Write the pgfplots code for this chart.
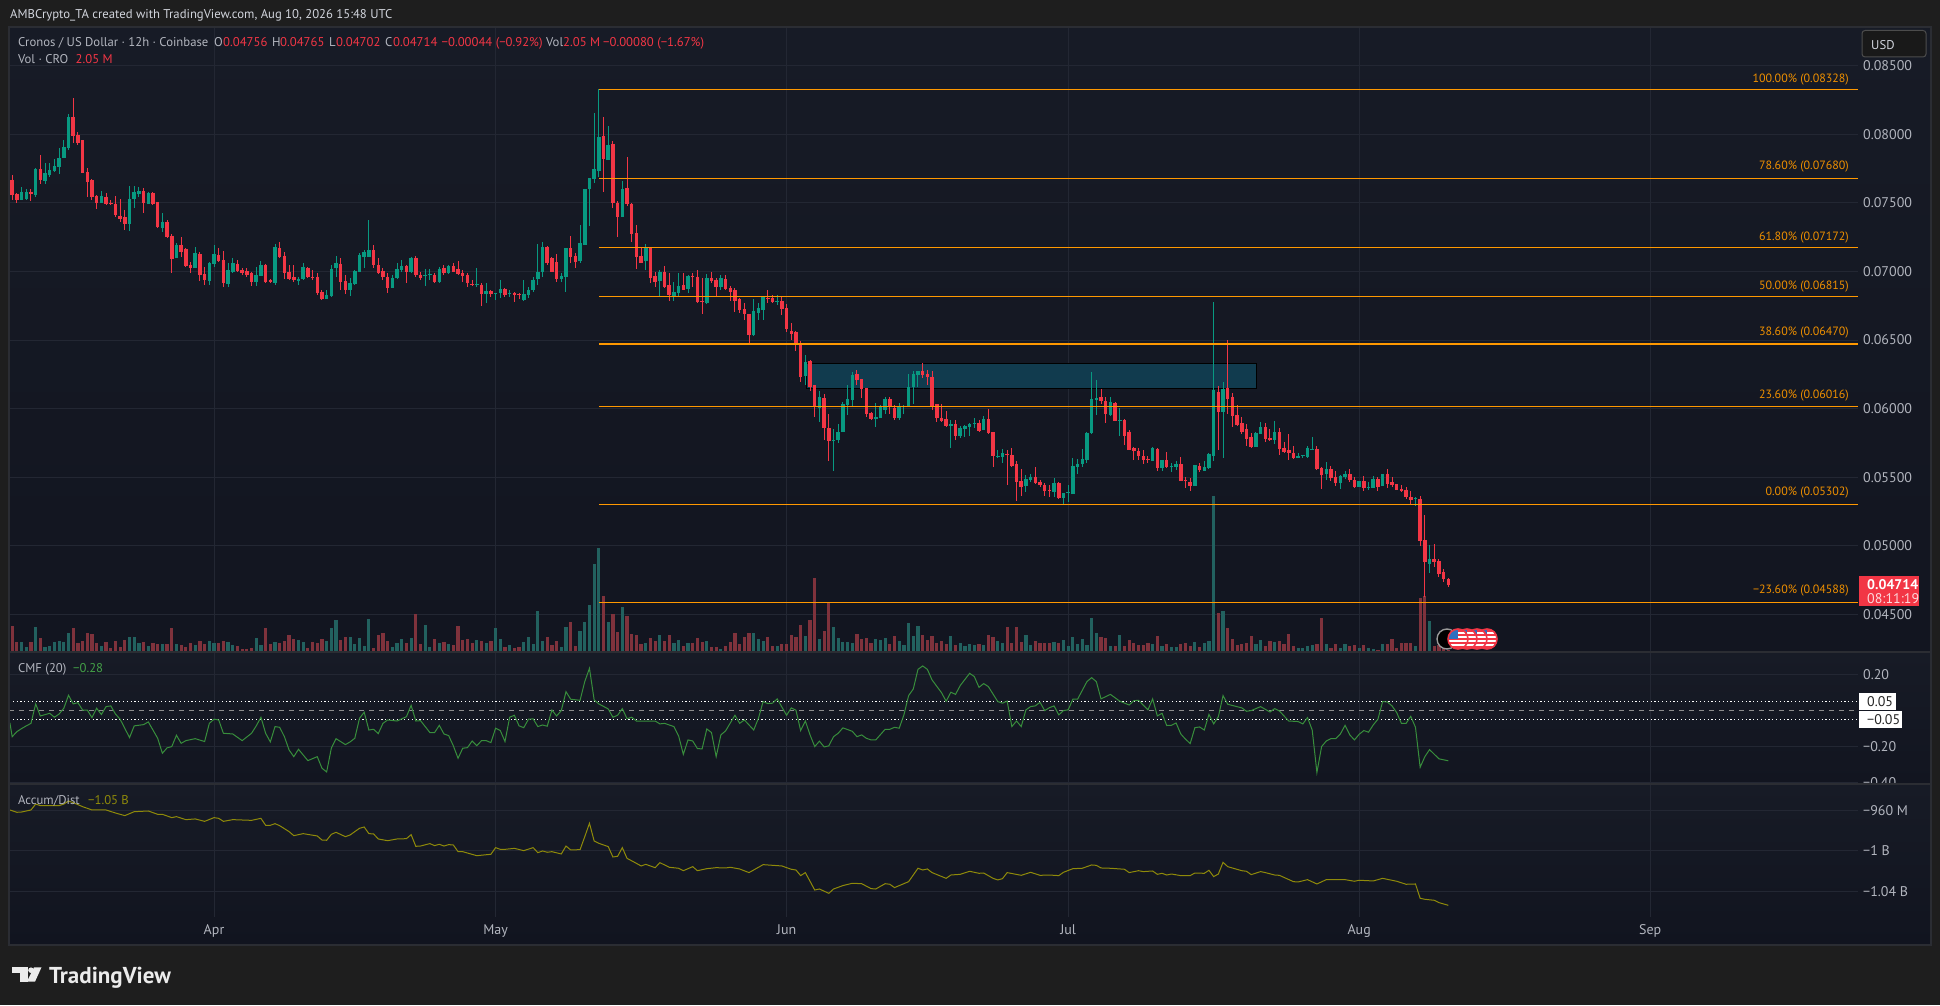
\documentclass[border=0pt]{standalone}
\usepackage{fontspec}
\setmainfont{PT Sans}
\usepackage{pgfplots}
\usepackage{pgfplotstable}
\pgfplotsset{compat=1.18}
\definecolor{pagebg}{HTML}{1E1E1E}
\definecolor{framec}{HTML}{2B2D33}
\definecolor{gridc}{HTML}{232733}
\definecolor{txt}{HTML}{B2B5BE}
\definecolor{txtb}{HTML}{D1D4DC}
\definecolor{cup}{HTML}{089981}
\definecolor{cdn}{HTML}{F23645}
\definecolor{vup}{HTML}{22615F}
\definecolor{vdn}{HTML}{7F323C}
\definecolor{fib}{HTML}{FF9800}
\definecolor{fibt}{HTML}{EE8F00}
\definecolor{boxc}{HTML}{113B4E}
\definecolor{cmfc}{HTML}{388E3C}
\definecolor{cmft}{HTML}{43A047}
\definecolor{adc}{HTML}{8F8A0A}
\definecolor{paneT}{RGB}{23,27,38}
\definecolor{paneB}{RGB}{18,21,32}
\definecolor{paneC}{RGB}{17,20,31}
\definecolor{flagb}{HTML}{2F6FC0}
\pgfplotstableread{
i o h l c v
0 0.07667 0.07703 0.07521 0.07557 25.7
1 0.07567 0.07574 0.07502 0.07521 10.3
2 0.07521 0.07613 0.07521 0.07579 10.3
3 0.07526 0.07599 0.07521 0.07582 5.3
4 0.07582 0.07601 0.07514 0.07567 10.3
5 0.07557 0.07757 0.07545 0.07747 25.3
6 0.07747 0.07849 0.07638 0.07664 14.3
7 0.07660 0.07788 0.07638 0.07718 5.3
8 0.07703 0.07788 0.07691 0.07740 6.3
9 0.07732 0.07822 0.07728 0.07769 10.3
10 0.07764 0.07898 0.07713 0.07827 11.3
11 0.07827 0.07958 0.07825 0.07907 10.3
12 0.07900 0.08146 0.07888 0.08126 19.3
13 0.08126 0.08265 0.07934 0.07988 24.3
14 0.07997 0.08019 0.07922 0.07941 9.3
15 0.07958 0.07958 0.07720 0.07720 11.3
16 0.07723 0.07752 0.07540 0.07652 19.3
17 0.07664 0.07674 0.07521 0.07540 18.3
18 0.07553 0.07557 0.07453 0.07497 9.3
19 0.07497 0.07589 0.07497 0.07550 6.3
20 0.07545 0.07574 0.07485 0.07492 10.3
21 0.07502 0.07521 0.07485 0.07494 4.3
22 0.07492 0.07550 0.07399 0.07409 11.3
23 0.07404 0.07528 0.07363 0.07380 5.3
24 0.07395 0.07448 0.07302 0.07346 12.3
25 0.07346 0.07623 0.07297 0.07528 15.3
26 0.07528 0.07623 0.07460 0.07579 15.3
27 0.07565 0.07618 0.07545 0.07587 9.3
28 0.07587 0.07606 0.07424 0.07502 10.3
29 0.07494 0.07582 0.07492 0.07572 6.3
30 0.07572 0.07577 0.07485 0.07489 9.3
31 0.07506 0.07506 0.07322 0.07327 8.3
32 0.07317 0.07429 0.07290 0.07358 8.3
33 0.07361 0.07375 0.07242 0.07251 8.3
34 0.07261 0.07271 0.06991 0.07093 24.3
35 0.07098 0.07205 0.07096 0.07191 8.3
36 0.07191 0.07254 0.07108 0.07144 7.3
37 0.07164 0.07169 0.07040 0.07042 5.3
38 0.07047 0.07071 0.06991 0.07025 9.3
39 0.07025 0.07176 0.07023 0.07132 7.3
40 0.07127 0.07144 0.06933 0.06974 11.3
41 0.06982 0.07035 0.06901 0.06935 8.3
42 0.06933 0.07071 0.06901 0.07059 11.3
43 0.07054 0.07193 0.07035 0.07125 9.3
44 0.07120 0.07169 0.07071 0.07074 9.3
45 0.07084 0.07152 0.06889 0.06913 11.3
46 0.06909 0.07059 0.06884 0.07011 10.3
47 0.06999 0.07096 0.06986 0.07059 7.3
48 0.07057 0.07084 0.06999 0.07006 6.3
49 0.07008 0.07028 0.06974 0.06986 3.3
50 0.07003 0.07023 0.06962 0.06972 3.3
51 0.06991 0.06999 0.06894 0.06921 4.3
52 0.06926 0.07035 0.06894 0.06972 14.3
53 0.06967 0.07079 0.06967 0.07047 7.3
54 0.07047 0.07052 0.06918 0.06923 24.3
55 0.06935 0.06943 0.06913 0.06921 8.3
56 0.06916 0.07200 0.06901 0.07178 10.3
57 0.07169 0.07212 0.07096 0.07108 9.3
58 0.07115 0.07144 0.06943 0.06986 11.3
59 0.06999 0.07047 0.06938 0.06943 17.3
60 0.06957 0.07047 0.06926 0.06935 13.3
61 0.06931 0.06962 0.06901 0.06945 12.3
62 0.06943 0.07059 0.06938 0.07035 10.3
63 0.07028 0.07035 0.06950 0.06957 4.3
64 0.06960 0.07011 0.06938 0.06952 10.3
65 0.06962 0.06986 0.06828 0.06845 9.3
66 0.06853 0.06865 0.06797 0.06802 13.3
67 0.06802 0.06865 0.06799 0.06828 11.3
68 0.06821 0.07047 0.06816 0.07020 24.3
69 0.07023 0.07113 0.06962 0.07059 32.3
70 0.07054 0.07096 0.06865 0.06926 12.3
71 0.06931 0.06974 0.06836 0.06865 15.3
72 0.06865 0.06950 0.06821 0.06913 15.3
73 0.06911 0.07011 0.06901 0.07003 8.3
74 0.06999 0.07132 0.06999 0.07120 14.3
75 0.07103 0.07157 0.07023 0.07139 6.3
76 0.07103 0.07375 0.07103 0.07157 33.3
77 0.07157 0.07193 0.07023 0.07047 4.3
78 0.07047 0.07096 0.06986 0.06989 17.3
79 0.07006 0.07023 0.06938 0.06962 19.3
80 0.06957 0.06986 0.06841 0.06877 11.3
81 0.06879 0.06974 0.06877 0.06950 5.3
82 0.06952 0.07059 0.06948 0.07016 9.3
83 0.07011 0.07084 0.06999 0.07042 13.3
84 0.07042 0.07047 0.06913 0.06999 9.3
85 0.06994 0.07108 0.06986 0.07101 14.3
86 0.07101 0.07113 0.06962 0.06974 38.3
87 0.06974 0.06999 0.06938 0.06950 8.3
88 0.06969 0.07016 0.06894 0.06977 27.3
89 0.06972 0.07016 0.06938 0.06979 5.3
90 0.06974 0.06986 0.06913 0.06923 13.3
91 0.06923 0.07035 0.06918 0.07016 9.3
92 0.07028 0.07047 0.06974 0.06986 10.3
93 0.06986 0.07047 0.06982 0.07040 8.3
94 0.07040 0.07059 0.06999 0.06999 7.3
95 0.07016 0.07076 0.06974 0.06979 26.3
96 0.06986 0.07011 0.06926 0.06967 12.3
97 0.06974 0.06986 0.06884 0.06913 13.3
98 0.06909 0.06938 0.06894 0.06899 9.3
99 0.06901 0.07023 0.06889 0.06909 12.3
100 0.06901 0.06913 0.06751 0.06836 11.3
101 0.06836 0.06913 0.06773 0.06858 9.3
102 0.06858 0.06865 0.06816 0.06836 11.3
103 0.06833 0.06845 0.06792 0.06841 24.3
104 0.06841 0.06938 0.06804 0.06870 13.3
105 0.06872 0.06877 0.06816 0.06828 5.3
106 0.06836 0.06865 0.06811 0.06845 7.3
107 0.06845 0.06853 0.06780 0.06828 4.3
108 0.06833 0.06841 0.06797 0.06826 5.3
109 0.06792 0.06938 0.06787 0.06836 10.3
110 0.06828 0.06889 0.06804 0.06865 15.3
111 0.06865 0.06957 0.06853 0.06938 8.3
112 0.06943 0.07200 0.06901 0.06994 41.3
113 0.06999 0.07212 0.06962 0.07178 11.3
114 0.07178 0.07186 0.07047 0.07064 15.3
115 0.07096 0.07108 0.06999 0.06999 7.3
116 0.07067 0.07125 0.06926 0.06943 11.3
117 0.06948 0.06986 0.06926 0.06969 5.3
118 0.06962 0.07169 0.06853 0.07169 25.3
119 0.07169 0.07259 0.07059 0.07108 30.3
120 0.07115 0.07132 0.07023 0.07071 6.3
121 0.07074 0.07339 0.07059 0.07205 21.3
122 0.07193 0.07601 0.07193 0.07601 30.3
123 0.07601 0.07679 0.07332 0.07679 47.3
124 0.07674 0.08158 0.07648 0.07747 88
125 0.07735 0.08328 0.07691 0.07978 104
126 0.07988 0.08129 0.07582 0.07820 56.3
127 0.07813 0.08061 0.07813 0.07922 30.3
128 0.07929 0.07951 0.07465 0.07499 38.3
129 0.07502 0.07514 0.07254 0.07400 20.3
130 0.07400 0.07660 0.07400 0.07601 45.3
131 0.07609 0.07832 0.07477 0.07492 36.3
132 0.07494 0.07497 0.07217 0.07276 18.3
133 0.07278 0.07339 0.07021 0.07108 17.3
134 0.07113 0.07169 0.07064 0.07064 8.3
135 0.07077 0.07200 0.07011 0.07176 9.3
136 0.07176 0.07181 0.06914 0.06955 14.3
137 0.06967 0.06996 0.06889 0.06926 11.3
138 0.06933 0.07011 0.06821 0.06996 17.3
139 0.06999 0.07040 0.06877 0.06885 11.3
140 0.06902 0.06991 0.06787 0.06829 17.3
141 0.06821 0.06926 0.06787 0.06851 9.3
142 0.06841 0.06991 0.06821 0.06894 12.3
143 0.06902 0.06987 0.06865 0.06865 6.3
144 0.06870 0.06974 0.06846 0.06967 9.3
145 0.06967 0.06987 0.06889 0.06960 9.3
146 0.06960 0.07011 0.06768 0.06780 14.3
147 0.06785 0.06950 0.06690 0.06780 10.3
148 0.06773 0.06982 0.06763 0.06953 11.3
149 0.06950 0.06996 0.06919 0.06928 5.3
150 0.06938 0.06953 0.06812 0.06889 5.3
151 0.06885 0.06974 0.06865 0.06950 3.3
152 0.06943 0.06974 0.06865 0.06875 6.3
153 0.06877 0.06894 0.06787 0.06853 10.3
154 0.06863 0.06877 0.06707 0.06787 19.3
155 0.06799 0.06804 0.06695 0.06719 8.3
156 0.06724 0.06768 0.06642 0.06690 15.3
157 0.06690 0.06690 0.06481 0.06539 19.3
158 0.06539 0.06799 0.06530 0.06712 19.3
159 0.06700 0.06768 0.06642 0.06734 13.3
160 0.06719 0.06821 0.06646 0.06816 11.3
161 0.06809 0.06865 0.06773 0.06802 15.3
162 0.06807 0.06829 0.06773 0.06778 6.3
163 0.06780 0.06829 0.06756 0.06785 6.3
164 0.06782 0.06812 0.06685 0.06727 8.3
165 0.06734 0.06763 0.06561 0.06578 8.3
166 0.06566 0.06622 0.06501 0.06544 17.3
167 0.06556 0.06569 0.06423 0.06464 15.3
168 0.06476 0.06493 0.06190 0.06233 27.3
169 0.06238 0.06391 0.06173 0.06340 16.3
170 0.06348 0.06355 0.06129 0.06160 32.3
171 0.06173 0.06173 0.05942 0.06015 74.3
172 0.06002 0.06129 0.05905 0.06083 13.3
173 0.06078 0.06107 0.05772 0.05859 21.3
174 0.05859 0.05961 0.05614 0.05764 49.7
175 0.05764 0.05852 0.05548 0.05772 25.3
176 0.05772 0.05888 0.05747 0.05830 14.3
177 0.05832 0.06051 0.05832 0.06034 10.3
178 0.06027 0.06173 0.05951 0.06068 10.3
179 0.06063 0.06265 0.06019 0.06245 9.3
180 0.06253 0.06282 0.06173 0.06209 18.3
181 0.06214 0.06214 0.06075 0.06146 13.3
182 0.06153 0.06153 0.05937 0.05961 14.3
183 0.05966 0.05978 0.05922 0.05927 9.3
184 0.05927 0.06039 0.05869 0.05939 13.3
185 0.05934 0.06027 0.05930 0.06010 12.3
186 0.05990 0.06087 0.05959 0.06070 14.3
187 0.06070 0.06087 0.05961 0.06010 8.3
188 0.06005 0.06027 0.05917 0.05930 16.3
189 0.05932 0.06044 0.05917 0.06015 11.3
190 0.06010 0.06027 0.05959 0.06019 7.3
191 0.06015 0.06253 0.06010 0.06158 29.3
192 0.06158 0.06277 0.06034 0.06253 16.3
193 0.06248 0.06275 0.06158 0.06275 26.3
194 0.06275 0.06335 0.06221 0.06248 17.3
195 0.06253 0.06282 0.06173 0.06233 12.3
196 0.06233 0.06275 0.05990 0.06015 16.3
197 0.06034 0.06034 0.05905 0.05932 9.3
198 0.05932 0.06034 0.05908 0.05910 11.3
199 0.05925 0.05983 0.05864 0.05874 8.3
200 0.05874 0.05917 0.05716 0.05888 16.3
201 0.05888 0.05913 0.05772 0.05801 7.3
202 0.05801 0.05874 0.05784 0.05859 9.3
203 0.05852 0.05881 0.05791 0.05876 6.3
204 0.05866 0.05898 0.05801 0.05888 8.3
205 0.05888 0.05930 0.05857 0.05893 7.3
206 0.05893 0.05917 0.05830 0.05837 8.3
207 0.05844 0.05947 0.05844 0.05925 7.3
208 0.05925 0.05995 0.05820 0.05825 17.3
209 0.05830 0.05830 0.05577 0.05657 15.3
210 0.05648 0.05699 0.05638 0.05657 11.3
211 0.05650 0.05706 0.05601 0.05674 9.3
212 0.05670 0.05699 0.05444 0.05662 25.3
213 0.05662 0.05711 0.05577 0.05582 9.3
214 0.05597 0.05616 0.05329 0.05468 25.3
215 0.05473 0.05558 0.05363 0.05431 10.3
216 0.05436 0.05516 0.05395 0.05487 17.3
217 0.05480 0.05524 0.05468 0.05504 7.3
218 0.05504 0.05572 0.05451 0.05461 11.3
219 0.05468 0.05480 0.05431 0.05444 9.3
220 0.05439 0.05456 0.05363 0.05400 9.3
221 0.05407 0.05444 0.05354 0.05400 9.3
222 0.05393 0.05497 0.05358 0.05458 10.3
223 0.05458 0.05463 0.05346 0.05351 9.3
224 0.05351 0.05383 0.05305 0.05383 12.3
225 0.05383 0.05444 0.05322 0.05393 6.3
226 0.05378 0.05638 0.05378 0.05582 15.3
227 0.05577 0.05633 0.05524 0.05597 8.3
228 0.05594 0.05706 0.05577 0.05631 13.3
229 0.05626 0.05832 0.05606 0.05825 7.3
230 0.05820 0.06265 0.05815 0.06068 34.3
231 0.06063 0.06209 0.05954 0.06078 19.3
232 0.06083 0.06143 0.06034 0.06053 15.3
233 0.06053 0.06083 0.05898 0.05961 14.3
234 0.05954 0.06083 0.05949 0.06051 6.3
235 0.06044 0.06051 0.05913 0.05913 6.3
236 0.05913 0.06002 0.05801 0.05917 17.3
237 0.05917 0.05922 0.05735 0.05801 6.3
238 0.05832 0.05844 0.05699 0.05699 12.3
239 0.05716 0.05723 0.05626 0.05694 9.3
240 0.05691 0.05711 0.05626 0.05655 7.3
241 0.05655 0.05699 0.05597 0.05626 7.3
242 0.05633 0.05655 0.05601 0.05626 9.3
243 0.05619 0.05723 0.05614 0.05716 8.3
244 0.05708 0.05711 0.05548 0.05570 16.3
245 0.05570 0.05626 0.05548 0.05626 6.3
246 0.05626 0.05684 0.05572 0.05577 8.3
247 0.05577 0.05601 0.05541 0.05584 5.3
248 0.05572 0.05614 0.05553 0.05597 5.3
249 0.05597 0.05645 0.05473 0.05473 8.3
250 0.05480 0.05504 0.05419 0.05473 9.3
251 0.05468 0.05492 0.05402 0.05436 6.3
252 0.05436 0.05589 0.05436 0.05589 10.3
253 0.05582 0.05604 0.05541 0.05553 5.3
254 0.05548 0.05614 0.05548 0.05572 9.3
255 0.05565 0.05677 0.05560 0.05672 11.3
256 0.05655 0.06775 0.05619 0.06136 156
257 0.06122 0.06165 0.05699 0.05976 39.3
258 0.05976 0.06192 0.05643 0.06143 41.3
259 0.06153 0.06501 0.05961 0.06070 24.3
260 0.06085 0.06112 0.05869 0.05949 13.3
261 0.05954 0.06024 0.05879 0.05881 7.3
262 0.05896 0.05937 0.05815 0.05830 8.3
263 0.05852 0.05888 0.05728 0.05779 9.3
264 0.05796 0.05820 0.05716 0.05718 16.3
265 0.05723 0.05830 0.05721 0.05825 8.3
266 0.05815 0.05900 0.05815 0.05866 12.3
267 0.05866 0.05893 0.05757 0.05779 6.3
268 0.05784 0.05849 0.05764 0.05772 11.3
269 0.05772 0.05910 0.05742 0.05827 10.3
270 0.05830 0.05859 0.05662 0.05706 11.3
271 0.05716 0.05755 0.05679 0.05687 7.7
272 0.05696 0.05815 0.05626 0.05677 18
273 0.05679 0.05728 0.05638 0.05640 5.7
274 0.05640 0.05679 0.05640 0.05653 4
275 0.05655 0.05660 0.05640 0.05660 4
276 0.05648 0.05730 0.05643 0.05716 5.7
277 0.05701 0.05791 0.05699 0.05706 6.7
278 0.05706 0.05730 0.05553 0.05560 8.3
279 0.05570 0.05577 0.05414 0.05519 34
280 0.05521 0.05611 0.05480 0.05560 8.3
281 0.05560 0.05582 0.05473 0.05492 4.3
282 0.05499 0.05548 0.05436 0.05456 7.7
283 0.05456 0.05519 0.05414 0.05509 4.3
284 0.05499 0.05543 0.05487 0.05524 7.7
285 0.05524 0.05560 0.05461 0.05480 5.7
286 0.05480 0.05499 0.05422 0.05431 6.7
287 0.05429 0.05475 0.05429 0.05473 4.3
288 0.05473 0.05509 0.05402 0.05424 6.7
289 0.05419 0.05461 0.05407 0.05429 4.3
290 0.05424 0.05509 0.05419 0.05487 3
291 0.05487 0.05499 0.05402 0.05429 2.3
292 0.05439 0.05521 0.05436 0.05521 7.7
293 0.05524 0.05560 0.05422 0.05451 8.3
294 0.05465 0.05499 0.05427 0.05446 12.7
295 0.05448 0.05451 0.05407 0.05407 4.3
296 0.05414 0.05444 0.05395 0.05400 9.3
297 0.05407 0.05427 0.05341 0.05354 9.3
298 0.05356 0.05400 0.05298 0.05334 9.3
299 0.05346 0.05358 0.05290 0.05351 5.7
300 0.05341 0.05363 0.05001 0.05035 54
301 0.05043 0.05225 0.04629 0.04882 55.7
302 0.04868 0.05006 0.04800 0.04904 30.7
303 0.04902 0.05013 0.04848 0.04885 5.7
304 0.04890 0.04904 0.04775 0.04797 6.7
305 0.04809 0.04831 0.04739 0.04758 3
306 0.04756 0.04765 0.04702 0.04714 2.05
}\ohlcv
\pgfplotstableread{
i cmf
-0.5 -0.068
0 -0.146
1 -0.118
2 -0.101
3 -0.086
4 -0.072
5 0.036
6 -0.031
8 -0.016
9 -0.038
10 -0.020
11 0.012
12 0.084
13 0.036
14 0.043
15 0.002
16 0.002
17 -0.040
18 0.012
19 -0.023
20 0.021
21 0.025
22 -0.020
23 -0.049
25 -0.151
26 -0.086
28 -0.079
29 -0.064
31 -0.155
32 -0.238
33 -0.208
34 -0.201
35 -0.138
36 -0.183
37 -0.168
39 -0.157
41 -0.173
42 -0.072
43 -0.049
44 -0.053
45 -0.127
47 -0.131
49 -0.168
51 -0.127
52 -0.086
53 -0.038
54 -0.127
55 -0.175
56 -0.090
57 -0.094
58 -0.146
59 -0.220
60 -0.257
61 -0.216
63 -0.279
65 -0.257
66 -0.321
67 -0.342
68 -0.210
69 -0.157
71 -0.190
72 -0.175
73 -0.155
74 -0.044
75 -0.010
76 -0.109
77 -0.105
78 -0.129
79 -0.072
80 -0.053
82 -0.059
84 -0.035
85 0.028
86 -0.059
87 -0.057
89 -0.123
90 -0.123
91 -0.083
92 -0.131
93 -0.140
94 -0.197
95 -0.266
96 -0.210
97 -0.207
98 -0.170
99 -0.196
100 -0.168
101 -0.168
102 -0.179
103 -0.099
104 -0.112
105 -0.173
106 -0.038
107 -0.027
108 -0.086
109 -0.096
110 -0.049
111 -0.047
112 -0.090
113 -0.081
114 -0.088
115 0.002
116 -0.031
117 -0.001
118 0.104
119 0.062
121 0.056
122 0.160
123 0.234
124 0.058
125 0.036
127 0.008
128 -0.038
129 -0.027
130 0.010
131 -0.046
132 -0.038
133 -0.059
137 -0.059
138 -0.075
139 -0.072
141 -0.090
142 -0.142
143 -0.244
144 -0.164
145 -0.170
146 -0.212
147 -0.214
148 -0.103
149 -0.123
150 -0.257
151 -0.136
152 -0.114
154 -0.027
155 -0.072
156 -0.053
158 -0.109
159 -0.044
160 0.049
161 0.038
162 0.040
163 0.064
165 -0.027
166 0.014
167 0.001
168 -0.112
169 -0.059
170 -0.136
171 -0.201
172 -0.171
173 -0.203
174 -0.197
175 -0.146
176 -0.127
177 -0.097
179 -0.116
180 -0.146
181 -0.136
182 -0.155
183 -0.164
184 -0.164
186 -0.105
187 -0.105
188 -0.094
189 -0.099
190 -0.025
191 0.082
192 0.119
193 0.228
194 0.247
195 0.228
196 0.169
198 0.099
199 0.051
200 0.101
201 0.089
202 0.138
204 0.206
205 0.188
206 0.128
207 0.149
208 0.132
210 0.049
211 0.040
212 0.052
213 -0.090
214 -0.059
215 -0.090
216 0.003
217 0.021
218 0.025
219 0.045
220 -0.001
221 0.015
222 0.025
223 -0.025
224 -0.001
225 0.003
226 0.062
227 0.062
229 0.160
230 0.182
231 0.160
232 0.064
234 0.089
236 0.051
238 0.030
239 0.054
240 0.056
242 0.003
243 0.064
244 -0.031
245 -0.016
246 -0.084
247 -0.083
248 -0.070
249 -0.131
250 -0.160
251 -0.184
252 -0.096
253 -0.092
254 -0.109
255 -0.022
256 -0.075
257 -0.035
258 0.082
259 0.034
262 0.014
263 -0.005
264 -0.001
266 0.021
268 -0.009
269 0.010
270 -0.003
272 -0.059
274 -0.062
275 -0.075
276 -0.040
277 -0.109
278 -0.345
279 -0.201
280 -0.170
281 -0.157
282 -0.157
283 -0.131
284 -0.083
285 -0.136
286 -0.164
287 -0.133
288 -0.112
289 -0.121
290 -0.081
291 -0.049
292 0.049
293 0.047
294 0.025
295 -0.012
296 -0.072
297 -0.072
298 -0.033
299 -0.094
300 -0.316
301 -0.257
302 -0.218
304 -0.269
306 -0.280
}\cmfdata
\pgfplotstableread{
i ad
-0.5 -959.4
1 -961.7
2 -961.4
4 -959.4
5 -953.5
6 -955.1
10 -955.1
11 -953.5
12 -950.5
13 -952.1
15 -956.1
17 -959.4
20 -959.4
22 -962.4
24 -965.0
26 -961.1
29 -960.4
31 -963.7
32 -963.7
34 -967.0
35 -966.0
37 -969.0
39 -968.3
41 -970.7
43 -967.0
44 -967.7
45 -970.7
47 -969.0
51 -969.7
53 -967.7
54 -974.6
55 -974.6
56 -973.0
57 -975.0
59 -980.9
60 -984.9
62 -982.9
65 -985.2
66 -989.2
67 -989.5
68 -983.6
69 -981.6
71 -985.9
72 -984.2
74 -977.6
75 -976.3
76 -982.9
77 -983.2
78 -988.2
80 -989.9
82 -988.2
84 -987.9
85 -983.9
86 -995.5
87 -995.2
89 -992.8
90 -994.8
91 -993.5
92 -995.2
93 -993.8
94 -994.2
95 -1000.8
96 -1000.8
99 -1004.8
102 -1003.4
103 -996.8
104 -998.5
105 -998.5
107 -997.5
109 -999.8
111 -996.8
112 -1001.8
113 -1000.1
114 -1001.4
115 -1000.8
117 -1003.1
118 -995.2
119 -999.1
121 -998.8
122 -985.9
123 -972.6
124 -990.2
125 -992.5
127 -995.8
128 -1006.1
129 -1005.4
130 -996.8
131 -1007.4
133 -1012.4
134 -1015.0
135 -1013.4
137 -1016.7
138 -1011.7
140 -1016.3
142 -1017.3
143 -1019.7
145 -1015.7
146 -1019.7
148 -1017.7
150 -1016.7
152 -1017.0
153 -1016.3
155 -1018.0
157 -1021.6
160 -1013.7
164 -1015.0
166 -1018.3
167 -1019.0
168 -1024.6
169 -1021.6
171 -1038.9
172 -1037.9
174 -1042.2
175 -1037.9
177 -1034.5
179 -1032.2
181 -1032.6
183 -1037.5
184 -1037.9
186 -1032.6
187 -1033.2
188 -1036.5
191 -1030.6
193 -1017.3
194 -1019.0
195 -1018.0
196 -1021.6
199 -1027.3
200 -1024.0
202 -1023.3
204 -1020.3
206 -1022.3
207 -1022.0
209 -1027.3
210 -1028.9
211 -1027.6
212 -1021.6
215 -1024.3
217 -1021.3
219 -1024.3
221 -1024.0
223 -1024.6
224 -1021.3
226 -1017.7
228 -1017.3
230 -1014.0
231 -1014.4
232 -1017.0
234 -1017.3
237 -1018.3
238 -1021.6
240 -1019.7
241 -1020.6
243 -1020.0
244 -1023.3
245 -1022.3
246 -1024.0
247 -1023.0
249 -1024.6
251 -1024.6
252 -1022.0
254 -1022.3
255 -1019.3
256 -1025.6
257 -1023.0
258 -1011.4
259 -1015.7
262 -1019.7
263 -1020.3
264 -1023.6
266 -1020.6
267 -1021.6
269 -1024.0
270 -1024.3
273 -1030.6
274 -1030.9
276 -1028.6
278 -1032.9
280 -1028.6
282 -1028.6
284 -1028.6
286 -1030.2
287 -1029.2
290 -1029.9
292 -1027.3
295 -1030.2
297 -1033.2
299 -1032.9
300 -1047.1
301 -1048.1
303 -1049.1
304 -1051.4
306 -1054.1
}\addata
\pgfplotsset{
 pane/.style={scale only axis,width=1849pt,anchor=south west,xmin=-0.682,xmax=393.3,
  xtick={43,103,165,225,287,349},xticklabels={},tick style={draw=none},major tick length=0pt,
  axis line style={draw=none},grid=major,grid style={gridc,line width=0.9pt},
  scaled y ticks=false,scaled x ticks=false,
  yticklabel pos=right,yticklabel style={anchor=west,text=txt,font=\fontsize{14}{16}\selectfont,xshift=5pt,inner sep=0pt}},
 layer/.style={scale only axis,width=1849pt,anchor=south west,xmin=-0.682,xmax=393.3,hide axis,scaled y ticks=false},
}
\newcommand{\T}[4]{\node[anchor=base west,inner sep=0pt,text=#3] at (#1,{1005-#2}) {#4};}
\newcommand{\TL}[4]{\node[anchor=base west,inner sep=0pt,text=#3,font=\fontsize{14}{16}\selectfont] at (#1,{1005-#2}) {#4};}
\newcommand{\R}[3]{\node[anchor=base east,inner sep=0pt,text=fibt,font=\fontsize{12}{14}\selectfont] at (#1,{1005-#2}) {#3};}
\newcommand{\flagc}[1]{%
 \begin{scope}
  \clip (#1,366) circle (9.5);
  \fill[white] (#1-10,356) rectangle (#1+10,376);
  \foreach \k in {0,1,2,3,4}{\fill[cdn] (#1-10,357+\k*4) rectangle (#1+10,359+\k*4);}
  \fill[flagb] (#1-10,366) rectangle (#1,376);
 \end{scope}
 \draw[cdn,line width=1.6pt] (#1,366) circle (10);}
\begin{document}
\begin{tikzpicture}[x=1pt,y=1pt]
\fill[pagebg] (0,0) rectangle (1940,1005);
% panes
\shade[top color=paneT,bottom color=paneB] (9,353) rectangle (1930,978);
\shade[top color=paneT,bottom color=paneB] (9,221) rectangle (1930,353);
% main pane: price scale and grid
\begin{axis}[pane,at={(9pt,353pt)},height=625pt,ymin=0.04225,ymax=0.08782,
 ytick={0.045,0.05,0.055,0.06,0.065,0.07,0.075,0.08,0.085},
 yticklabels={0.04500,0.05000,0.05500,0.06000,0.06500,0.07000,0.07500,0.08000,0.08500}]
\end{axis}
% volume overlay (M)
\begin{axis}[layer,at={(9pt,353pt)},height=625pt,ymin=0,ymax=625]
\addplot[ycomb,vup,line width=3.2pt] table[x expr={\thisrow{c}>=\thisrow{o} ? \thisrow{i} : nan},y=v]{\ohlcv};
\addplot[ycomb,vdn,line width=3.2pt] table[x expr={\thisrow{c}<\thisrow{o} ? \thisrow{i} : nan},y=v]{\ohlcv};
\end{axis}
% candles and fib
\begin{axis}[layer,at={(9pt,353pt)},height=625pt,ymin=0.04225,ymax=0.08782]
\addplot[fill=boxc,draw=black,line width=1pt] coordinates {(169.25,0.06148)(169.25,0.06329)(265.2,0.06329)(265.2,0.06148)} --cycle;
\addplot[draw=none,mark=none,error bars/.cd,y dir=both,y explicit,error mark=none,
 error bar style={draw=cup,line width=1pt}] table[x expr={\thisrow{c}>=\thisrow{o} ? \thisrow{i} : nan},y=c,
 y error plus expr={\thisrow{h}-\thisrow{c}},y error minus expr={\thisrow{c}-\thisrow{l}}]{\ohlcv};
\addplot[draw=none,mark=none,error bars/.cd,y dir=both,y explicit,error mark=none,
 error bar style={draw=cdn,line width=1pt}] table[x expr={\thisrow{c}<\thisrow{o} ? \thisrow{i} : nan},y=c,
 y error plus expr={\thisrow{h}-\thisrow{c}},y error minus expr={\thisrow{c}-\thisrow{l}}]{\ohlcv};
\addplot[draw=none,mark=none,error bars/.cd,y dir=both,y explicit,error mark=none,
 error bar style={draw=cup,line width=3.5pt}] table[x expr={\thisrow{c}>=\thisrow{o} ? \thisrow{i} : nan},y=c,
 y error plus expr={0},y error minus expr={\thisrow{c}-\thisrow{o}+0.000012}]{\ohlcv};
\addplot[draw=none,mark=none,error bars/.cd,y dir=both,y explicit,error mark=none,
 error bar style={draw=cdn,line width=3.5pt}] table[x expr={\thisrow{c}<\thisrow{o} ? \thisrow{i} : nan},y=o,
 y error plus expr={0},y error minus expr={\thisrow{o}-\thisrow{c}+0.000012}]{\ohlcv};
\addplot[fib,line width=1.2pt] coordinates {(125,0.08328)(393.3,0.08328)};
\addplot[fib,line width=1.2pt] coordinates {(125,0.07680)(393.3,0.07680)};
\addplot[fib,line width=1.2pt] coordinates {(125,0.07172)(393.3,0.07172)};
\addplot[fib,line width=1.2pt] coordinates {(125,0.06815)(393.3,0.06815)};
\addplot[fib,line width=1.2pt] coordinates {(125,0.06470)(393.3,0.06470)};
\addplot[fib,line width=1.2pt] coordinates {(125,0.06016)(393.3,0.06016)};
\addplot[fib,line width=1.2pt] coordinates {(125,0.05302)(393.3,0.05302)};
\addplot[fib,line width=1.2pt] coordinates {(125,0.04588)(393.3,0.04588)};
\end{axis}
% CMF
\begin{axis}[pane,at={(9pt,221pt)},height=132pt,ymin=-0.4089,ymax=0.3244,
 ytick={-0.4,-0.2,0.2},yticklabels={−0.40,−0.20,0.20}]
\addplot[white,line width=1pt,dash pattern=on 1.2pt off 2.6pt] coordinates {(-0.682,0.05)(393.3,0.05)};
\addplot[white,line width=1pt,dash pattern=on 1.2pt off 2.6pt] coordinates {(-0.682,-0.05)(393.3,-0.05)};
\addplot[black!45!white,line width=0.9pt,dash pattern=on 5pt off 5pt] coordinates {(-0.682,0)(393.3,0)};
\addplot[cmfc,line width=1pt] table[x=i,y=cmf]{\cmfdata};
\end{axis}
\shade[top color=paneT,bottom color=paneC] (9,60) rectangle (1930,221);
% Accum/Dist
\begin{axis}[pane,at={(9pt,88pt)},height=133pt,ymin=-1065.7,ymax=-933.6,
 xticklabels={Apr,May,Jun,Jul,Aug,Sep},
 xticklabel style={text=txt,font=\fontsize{14}{16}\selectfont,yshift=-4pt},
 ytick={-1040,-1000,-960},yticklabels={−1.04 B,−1 B,−960 M}]
\addplot[adc,line width=1pt] table[x=i,y=ad]{\addata};
\end{axis}
% frame and dividers
\draw[framec,line width=2pt] (9,60) rectangle (1931,978);
\draw[framec,line width=1.4pt] (9,353) -- (1930,353);
\draw[framec,line width=1.4pt] (9,221) -- (1930,221);
% text
\fontsize{12.7}{15}\selectfont
\T{10}{19}{txtb}{AMBCrypto\_TA created with TradingView.com, Aug 10, 2026 15:48 UTC}
\T{18}{46.5}{txt}{Cronos / US Dollar · 12h · Coinbase}
\T{214}{46.5}{txt}{O}\T{223}{46.5}{cdn}{0.04756}
\T{272}{46.5}{txt}{H}\T{280}{46.5}{cdn}{0.04765}
\T{329}{46.5}{txt}{L}\T{336}{46.5}{cdn}{0.04702}
\T{385}{46.5}{txt}{C}\T{393}{46.5}{cdn}{0.04714}
\T{441.5}{46.5}{cdn}{−0.00044 (−0.92\%)}
\T{546}{46.5}{txt}{Vol}\T{563}{46.5}{cdn}{2.05 M}
\T{603}{46.5}{cdn}{−0.00080 (−1.67\%)}
\T{18}{63.5}{txt}{Vol · CRO}\T{75.5}{63.5}{cdn}{2.05 M}
\T{18}{672}{txt}{CMF (20)}\T{73}{672}{cmft}{−0.28}
\T{18}{804.5}{txt}{Accum/Dist}\T{88}{804.5}{adc}{−1.05 B}
\R{1849}{82.5}{100.00\% (0.08328)}
\R{1849}{170}{78.60\% (0.07680)}
\R{1849}{240.5}{61.80\% (0.07172)}
\R{1849}{289.5}{50.00\% (0.06815)}
\R{1849}{336}{38.60\% (0.06470)}
\R{1849}{398.5}{23.60\% (0.06016)}
\R{1849}{496}{0.00\% (0.05302)}
\R{1849}{594}{−23.60\% (0.04588)}
% USD button
\draw[fill=black!90!white,draw=black!70!white,line width=1pt,rounded corners=3pt] (1862,948) rectangle (1926,974.5);
\T{1871}{49.5}{txtb}{USD}
% last price
\fill[cdn] (1859,399) rectangle (1918.7,429);
\TL{1867}{589.5}{white}{\textbf{0.04714}}
\TL{1867}{603}{white!80!cdn}{08:11:19}
% CMF level labels
\fill[white] (1859,295) rectangle (1896,312);
\TL{1867}{706.5}{black!85!white}{0.05}
\fill[white] (1859,277) rectangle (1902,294);
\TL{1867}{724.5}{black!85!white}{−0.05}
% event flags
\draw[white!60!black,line width=1.4pt,fill=black] (1447,366) circle (10);
\flagc{1487}\flagc{1477}\flagc{1467}\flagc{1458}
% logo
\fill[white!92!black] (12,37.7) rectangle (28,32.3);
\fill[white!92!black] (20,37.7) rectangle (28,23.3);
\fill[white!92!black] (31,34.8) circle (2.8);
\fill[white!92!black] (34,37.7) -- (41.5,37.7) -- (35,23.3) -- (26.8,23.3) -- cycle;
\node[anchor=base west,inner sep=0pt,text=white!92!black,font=\fontsize{23}{26}\selectfont\bfseries] at (49,22) {TradingView};
\end{tikzpicture}
\end{document}
